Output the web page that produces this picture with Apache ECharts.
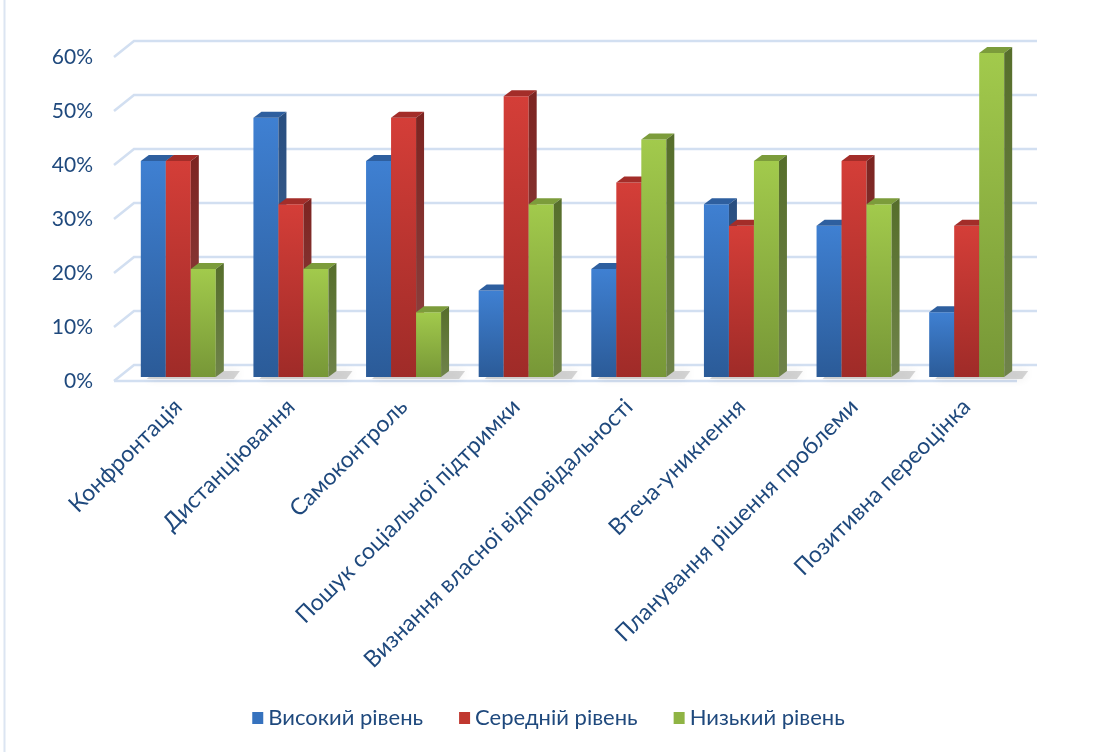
<!DOCTYPE html>
<html><head><meta charset="utf-8">
<script src="https://cdn.jsdelivr.net/npm/echarts@6/dist/echarts.min.js"></script>
<style>html,body{margin:0;padding:0;background:#fff}#c{width:1097px;height:752px}</style>
</head><body><div id="c"></div>
<script>
const categories = ['Конфронтація','Дистанціювання','Самоконтроль','Пошук соціальної підтримки','Визнання власної відповідальності','Втеча-уникнення','Планування рішення проблеми','Позитивна переоцінка'];
const seriesNames = ['Високий рівень','Середній рівень','Низький рівень'];
const highLevel = [40,48,40,16,20,32,28,12];
const midLevel  = [40,32,48,52,36,28,40,28];
const lowLevel  = [20,20,12,32,44,40,32,60];
const yTicks = [0,10,20,30,40,50,60];

const TXT = '#1F497D';
const FONT = 'Lato';
const palettes = [
  {top:'#3F80D2', bottom:'#2B5B98', side:'#284E80', cap:'#2E5F9F', legend:'#3672BE'},
  {top:'#D43E38', bottom:'#9F2B28', side:'#7C2421', cap:'#A32D29', legend:'#C0382F'},
  {top:'#A2CA4C', bottom:'#779737', side:'#566E2B', cap:'#7C9C3B', legend:'#8FB444'}
];
const DX = 8, DY = 6;

function barRender(idx){
  const pal = palettes[idx];
  return function(params, api){
    const c = api.value(0), v = api.value(1);
    const base = api.coord([c, 0]);
    const top = api.coord([c, v]);
    const band = api.size([1, 0])[0];
    const w = band * 0.222;
    const x0 = base[0] - 1.5 * w + idx * w;
    const x1 = x0 + w;
    const yb = base[1], yt = top[1];
    return {type:'group', children:[
      {type:'rect', shape:{x:x0, y:yt, width:w, height:yb-yt},
        style:{fill:new echarts.graphic.LinearGradient(0,0,0,1,[{offset:0,color:pal.top},{offset:1,color:pal.bottom}])}},
      {type:'polygon', shape:{points:[[x0,yt],[x0+DX,yt-DY],[x1+DX,yt-DY],[x1,yt]]}, style:{fill:pal.cap}},
      {type:'polygon', shape:{points:[[x1,yt],[x1+DX,yt-DY],[x1+DX,yb-DY],[x1,yb]]},
        style:{fill:new echarts.graphic.LinearGradient(0,0,0,1,[{offset:0,color:pal.side},{offset:1,color:echarts.color.lift(pal.side,0.15)}])}}
    ]};
  };
}

function shadowRender(params, api){
  const c = api.value(0);
  const base = api.coord([c, 0]);
  const band = api.size([1, 0])[0];
  const w = band * 0.222;
  const x0 = base[0] - 1.5 * w;
  const x1 = x0 + 3 * w;
  const yb = base[1];
  return {type:'polygon', shape:{points:[[x0+6,yb+2],[x1+DX+10,yb+2],[x1+DX+16,yb-DY],[x0+DX+6,yb-DY]]},
    style:{fill:'rgba(110,110,110,0.28)', shadowBlur:10, shadowColor:'rgba(0,0,0,0.3)'}};
}

function gridRender(params, api){
  const v = api.value(1);
  const p = api.coord([0, v]);
  const pr = api.coord([1, v]);
  const pts = [[p[0], p[1]], [p[0]+20, p[1]-16], [pr[0]+20, pr[1]-16]];
  const children = [{type:'polyline', shape:{points:pts}, style:{stroke:'#D2DFF1', lineWidth:2.5, fill:null}}];
  if (v === 0) {
    children.push({type:'line', shape:{x1:p[0], y1:p[1], x2:pr[0], y2:pr[1]}, style:{stroke:'#D2DFF1', lineWidth:2.5}});
  }
  return {type:'group', children};
}

const dataSets = [highLevel, midLevel, lowLevel];
const chart = echarts.init(document.getElementById('c'));
chart.setOption({
  animation:false,
  backgroundColor:'#fff',
  graphic:[{type:'line', shape:{x1:4.5,y1:0,x2:4.5,y2:752}, style:{stroke:'#DCE5F2', lineWidth:2}}],
  grid:[
    {left:122, right:74, top:53, bottom:375},
    {left:114, right:80, top:57, bottom:371}
  ],
  xAxis:[
    {type:'category', gridIndex:0, data:categories,
      axisLine:{show:false}, axisTick:{show:false},
      axisLabel:{rotate:45, interval:0, margin:26, color:TXT, fontFamily:FONT, fontSize:23}},
    {type:'value', gridIndex:1, min:0, max:1, show:false}
  ],
  yAxis:[
    {type:'value', gridIndex:0, min:0, max:60, interval:10, show:false},
    {type:'value', gridIndex:1, min:0, max:60, interval:10,
      axisLine:{show:false}, axisTick:{show:false}, splitLine:{show:false},
      axisLabel:{formatter:'{value}%', margin:21, color:TXT, fontFamily:FONT, fontSize:21}}
  ],
  legend:{
    data:seriesNames.map((n,i)=>({name:n, icon:'rect', itemStyle:{color:palettes[i].legend}})),
    top:702, left:'center', itemWidth:11, itemHeight:12, itemGap:36, itemTextGap:5,
    textStyle:{color:TXT, fontFamily:FONT, fontSize:22}
  },
  series:[
    {type:'custom', name:'grid', xAxisIndex:1, yAxisIndex:1, z:1, silent:true,
      renderItem:gridRender, data:yTicks.map(v=>[0, v]), encode:{x:0, y:1}},
    {type:'custom', name:'shadow', xAxisIndex:0, yAxisIndex:0, z:2, silent:true,
      renderItem:shadowRender, data:categories.map((c,i)=>[i, 0]), encode:{x:0, y:1}},
    ...seriesNames.map((n,i)=>({
      type:'custom', name:n, xAxisIndex:0, yAxisIndex:0, z:3,
      itemStyle:{color:palettes[i].legend},
      renderItem:barRender(i), data:dataSets[i].map((v,k)=>[k, v]), encode:{x:0, y:1}
    }))
  ]
});
</script>
</body></html>
